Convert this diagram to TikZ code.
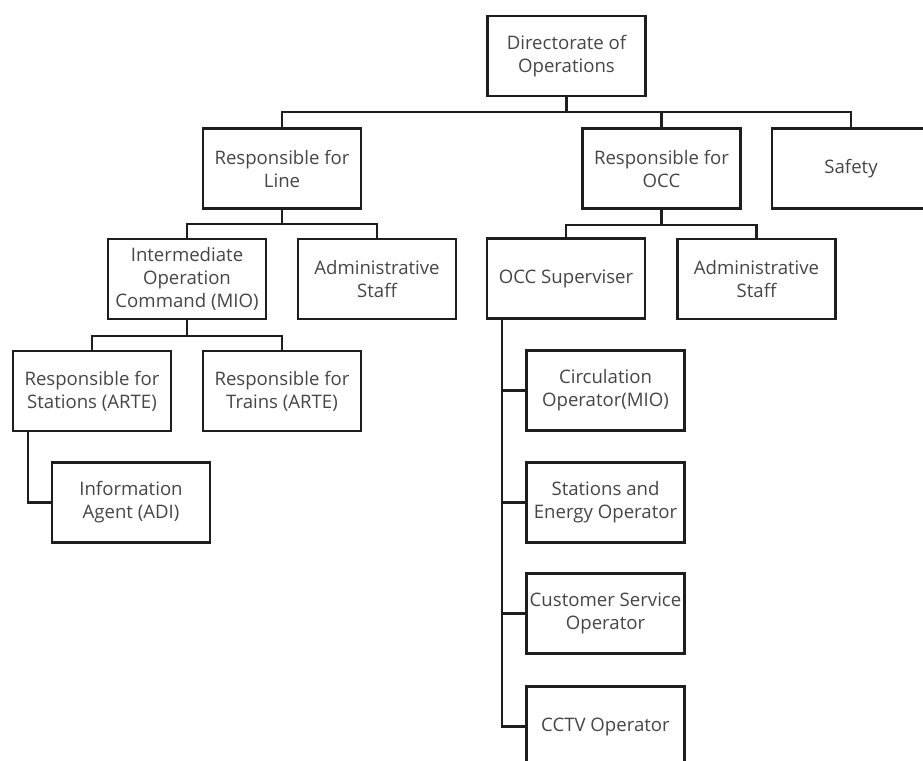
\documentclass[tikz,border=0pt]{standalone}
\usepackage{fontspec}
\setmainfont{Open Sans}
\definecolor{txt}{RGB}{70,70,70}
\definecolor{ln}{RGB}{30,30,30}
\tikzset{
  orgbox/.style={draw=ln, line width=2.4pt, fill=white, minimum width=158pt, minimum height=80pt,
    inner sep=0pt, align=center, text=txt, font=\fontsize{18.6}{23}\selectfont},
  conn/.style={draw=ln, line width=2.4pt}
}
\begin{document}
\begin{tikzpicture}[x=1pt,y=-1pt]
\useasboundingbox (0,0) rectangle (923,760);
\clip (0,0) rectangle (923,760);
\fill[white] (0,0) rectangle (923,760);
\coordinate (b0) at (566.5,112);
\coordinate (b1) at (282,224);
\coordinate (b2) at (661.5,225);
\coordinate (b3) at (187,336);
\node[orgbox] (dir) at (566.5,56) {Directorate of\\Operations};
\node[orgbox] (line) at (282,168.5) {Responsible for\\Line};
\node[orgbox] (occ) at (661.5,168.5) {Responsible for\\OCC};
\node[orgbox] (safety) at (851,168.5) {Safety};
\node[orgbox] (mio) at (187,279) {Intermediate\\Operation\\Command (MIO)};
\node[orgbox] (admL) at (377,279) {Administrative\\Staff};
\node[orgbox] (sup) at (566,278.5) {OCC Superviser};
\node[orgbox] (admO) at (756.5,279) {Administrative\\Staff};
\node[orgbox] (stat) at (92,391) {Responsible for\\Stations (ARTE)};
\node[orgbox] (trains) at (282,391) {Responsible for\\Trains (ARTE)};
\node[orgbox] (info) at (131,502.5) {Information\\Agent (ADI)};
\node[orgbox] (circ) at (605.5,390.5) {Circulation\\Operator(MIO)};
\node[orgbox] (energy) at (605.5,502.5) {Stations and\\Energy Operator};
\node[orgbox] (cust) at (605.5,613.5) {Customer Service\\Operator};
\node[orgbox] (cctv) at (605.5,726.5) {CCTV Operator};
\draw[conn] (dir.south) -- (b0);
\draw[conn] (b0) -| (line.north);
\draw[conn] (b0) -| (occ.north);
\draw[conn] (b0) -| (safety.north);
\draw[conn] (line.south) -- (b1);
\draw[conn] (b1) -| (mio.north);
\draw[conn] (b1) -| (admL.north);
\draw[conn] (occ.south) -- (b2);
\draw[conn] (b2) -| (sup.north);
\draw[conn] (b2) -| (admO.north);
\draw[conn] (mio.south) -- (b3);
\draw[conn] (b3) -| (stat.north);
\draw[conn] (b3) -| (trains.north);
\draw[conn] ([xshift=16pt]stat.south west) |- (info.west);
\draw[conn] ([xshift=16pt]sup.south west) |- (cctv.west);
\draw[conn] ([xshift=16pt]sup.south west) |- (circ.west);
\draw[conn] ([xshift=16pt]sup.south west) |- (energy.west);
\draw[conn] ([xshift=16pt]sup.south west) |- (cust.west);
\end{tikzpicture}
\end{document}
